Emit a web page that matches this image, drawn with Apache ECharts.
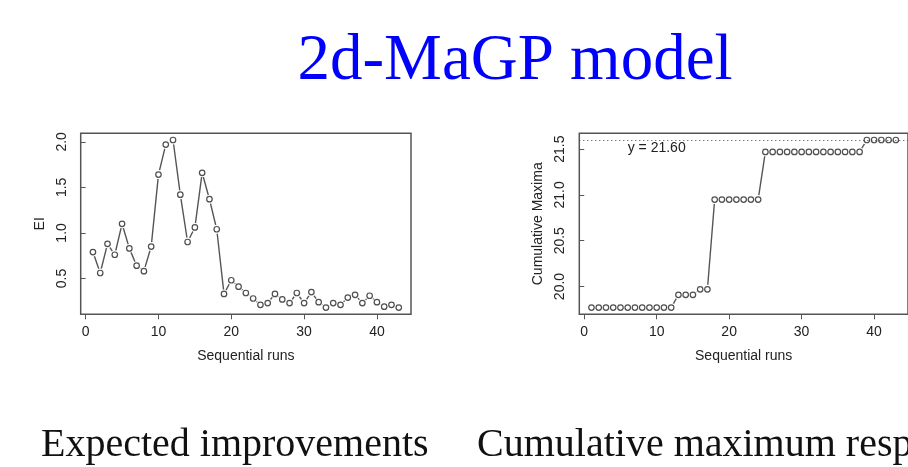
<!DOCTYPE html>
<html>
<head>
<meta charset="utf-8">
<script src="https://cdn.jsdelivr.net/npm/echarts@6/dist/echarts.min.js"></script>
<style>html,body{margin:0;padding:0;background:#fff;}#c{width:908px;height:467px;}</style>
</head>
<body>
<div id="c"></div>
<script>
const titleText = '2d-MaGP model';
const captionLeft = 'Expected improvements';
const captionRight = 'Cumulative maximum response';
const runs = [1,2,3,4,5,6,7,8,9,10,11,12,13,14,15,16,17,18,19,20,21,22,23,24,25,26,27,28,29,30,31,32,33,34,35,36,37,38,39,40,41,42,43];
const eiValues = [0.79,0.56,0.88,0.76,1.10,0.83,0.64,0.58,0.85,1.64,
                  1.97,2.02,1.42,0.90,1.06,1.66,1.37,1.04,0.33,0.48,
                  0.41,0.34,0.28,0.21,0.23,0.33,0.27,0.23,0.34,0.23,
                  0.35,0.24,0.18,0.23,0.21,0.29,0.32,0.23,0.31,0.24,
                  0.19,0.21,0.18];
const cumMax = [19.77,19.77,19.77,19.77,19.77,19.77,19.77,19.77,19.77,19.77,19.77,19.77,
                19.91,19.91,19.91,
                19.97,19.97,
                20.95,20.95,20.95,20.95,20.95,20.95,20.95,
                21.47,21.47,21.47,21.47,21.47,21.47,21.47,21.47,21.47,21.47,21.47,21.47,21.47,21.47,
                21.60,21.60,21.60,21.60,21.60];
const xTicks = [0,10,20,30,40];
const eiTicks = [0.5,1.0,1.5,2.0];
const cumTicks = [20.0,20.5,21.0,21.5];
const refLine = 21.60;
const refLabel = 'y = 21.60';
const refLabelPos = [10, 21.51];
const xName = 'Sequential runs';
const eiName = 'EI';
const cumName = 'Cumulative Maxima';

function rng(arr){ const mn=Math.min(...arr), mx=Math.max(...arr), p=(mx-mn)*0.04; return [mn-p, mx+p]; }
const xr = rng(runs), eir = rng(eiValues), cmr = rng(cumMax);

const txt = {fontFamily:'Liberation Sans', fontSize:14, color:'#222'};
const boxColor = '#555';

function xAxisDef(gi){
  return {type:'value', gridIndex:gi, min:xr[0], max:xr[1],
    axisLine:{show:false}, splitLine:{show:false},
    axisTick:{show:true, customValues:xTicks, length:5, lineStyle:{color:boxColor, width:1}},
    axisLabel:Object.assign({customValues:xTicks, margin:11}, txt),
    name:xName, nameLocation:'middle', nameGap:35, nameTextStyle:txt};
}
function yAxisDef(gi, r, ticks, name){
  return {type:'value', gridIndex:gi, min:r[0], max:r[1],
    axisLine:{show:false}, splitLine:{show:false},
    axisTick:{show:true, customValues:ticks, length:5, lineStyle:{color:boxColor, width:1}},
    axisLabel:Object.assign({customValues:ticks, rotate:90, margin:12, formatter:v=>v.toFixed(1)}, txt),
    name:name, nameLocation:'middle', nameRotate:90, nameGap:34, nameTextStyle:txt};
}
function pairs(ys){ return runs.map((x,i)=>[x, ys[i]]); }
function gapLine(gi, ys){
  return {type:'line', xAxisIndex:gi, yAxisIndex:gi, data:pairs(ys), showAllSymbol:true,
    symbol:'circle', symbolSize:9, itemStyle:{color:'#fff', borderWidth:0},
    lineStyle:{color:'#555', width:1.4}, z:2, silent:true};
}
function pts(gi, ys){
  return {type:'scatter', xAxisIndex:gi, yAxisIndex:gi, data:pairs(ys),
    symbol:'circle', symbolSize:5.5, itemStyle:{color:'#fff', borderColor:'#222', borderWidth:1.2}, z:3, silent:true};
}

const chart = echarts.init(document.getElementById('c'), null, {renderer:'canvas'});
const rightPts = pts(1, cumMax);
rightPts.markLine = {silent:true, symbol:['none','none'], label:{show:false},
  lineStyle:{type:[1,3], color:'#444', width:1}, data:[{yAxis:refLine}]};
rightPts.markPoint = {silent:true, symbol:'circle', symbolSize:0,
  data:[{coord:refLabelPos, label:Object.assign({show:true, position:'inside', formatter:refLabel}, txt)}]};

chart.setOption({
  animation:false,
  backgroundColor:'#fff',
  grid:[
    {left:80.7, top:133.3, width:330.3, height:181, show:true, borderColor:boxColor, borderWidth:1.5, backgroundColor:'transparent'},
    {left:579.3, top:133.3, width:330.3, height:181, show:true, borderColor:boxColor, borderWidth:1.5, backgroundColor:'transparent'}
  ],
  xAxis:[xAxisDef(0), xAxisDef(1)],
  yAxis:[yAxisDef(0, eir, eiTicks, eiName), yAxisDef(1, cmr, cumTicks, cumName)],
  series:[gapLine(0, eiValues), pts(0, eiValues), gapLine(1, cumMax), rightPts],
  graphic:[
    {type:'text', x:515, y:61.5, style:{text:titleText, font:'65px "Liberation Serif"', fill:'#0000ff', align:'center', verticalAlign:'middle'}},
    {type:'text', x:41, y:445, style:{text:captionLeft, font:'40px "Liberation Serif"', fill:'#111', align:'left', verticalAlign:'middle'}},
    {type:'text', x:477, y:445, style:{text:captionRight, font:'40px "Liberation Serif"', fill:'#111', align:'left', verticalAlign:'middle'}}
  ]
});
</script>
</body>
</html>
